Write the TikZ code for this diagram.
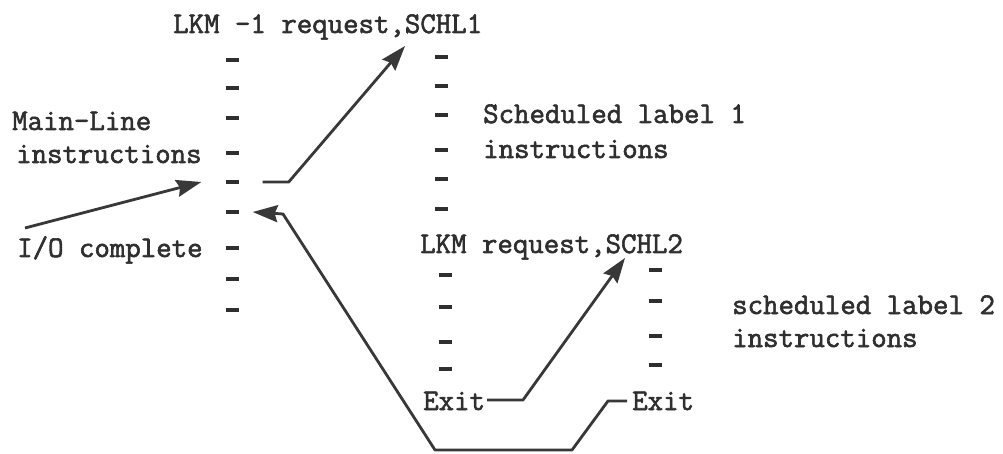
\documentclass[tikz,border=0pt]{standalone}
\usepackage{fontspec}
\usetikzlibrary{arrows.meta,calc}
\newfontfamily\typewriter{Latin Modern Mono}[FakeBold=2]
\definecolor{ink}{HTML}{2F2F2F}
\definecolor{pen}{HTML}{383838}
\tikzset{
  typed/.style={font=\typewriter\fontsize{30}{36}\selectfont, text=ink, inner sep=0pt, anchor=base west},
  tick/.style={rectangle, fill=ink, draw=none, inner sep=0pt, minimum width=13pt, minimum height=3.2pt},
  flow/.style={draw=pen, line width=2.8pt, line join=round},
  tip/.style={-{Stealth[length=25pt,width=17pt,inset=3pt]}}
}
\begin{document}
\begin{tikzpicture}[x=1pt,y=-1pt]
\useasboundingbox[fill=white] (0,0) rectangle (1003,454);

% main line program
\node[typed] (title1) at (173,33) {LKM -1 request,SCHL1};
\node[typed] (mainline) at (12,130) {Main-Line};
\node[typed] (maininstr) at (16,163) {instructions};
\node[typed] (iodone) at (17,257) {I/O complete};
\foreach \n/\y in {1/60,2/88,3/118,4/153,5/182,6/212,7/248,8/279,9/310}
  \node[tick] (a\n) at (232,\y) {};

% scheduled label 1 routine
\node[typed] (sch1a) at (483,123) {Scheduled label 1};
\node[typed] (sch1b) at (483,158) {instructions};
\foreach \n/\y in {1/57,2/86,3/115,4/150,5/179,6/209}
  \node[tick] (b\n) at (441,\y) {};
\node[typed] (title2) at (420,253) {LKM request,SCHL2};
\foreach \n/\y in {7/275,8/307,9/342,10/369}
  \node[tick] (b\n) at (445,\y) {};
\node[typed] (exit1) at (423,410) {Exit};

% scheduled label 2 routine
\foreach \n/\y in {1/270,2/301,3/336,4/365}
  \node[tick] (c\n) at (655,\y) {};
\node[typed] (sch2a) at (732,314) {scheduled label 2};
\node[typed] (sch2b) at (732,347) {instructions};
\node[typed] (exit2) at (632,410) {Exit};

% connector end points
\coordinate (ioTail) at (25,228);
\coordinate (intoMain) at ($(a5.west)+(-24,0)$);
\coordinate (leaveMain) at ($(a5.east)+(24,0)$);
\coordinate (leaveBend) at ($(a5.east)+(50,0)$);
\coordinate (sch1Tip) at (405,46);
\coordinate (exit1Start) at (487,400);
\coordinate (exit1Bend) at (523,400);
\coordinate (sch2Tip) at (625,258);
\coordinate (exit2Start) at (627,401);
\coordinate (exit2Bend) at (608,401);
\coordinate (lowRight) at (572,450);
\coordinate (lowLeft) at (435,450);
\coordinate (backBend) at (283,214);
\coordinate (backTip) at ($(a6.east)+(14,0)$);

% connectors
\draw[flow,tip] (ioTail) -- (intoMain);
\draw[flow,tip] (leaveMain) -- (leaveBend) -- (sch1Tip);
\draw[flow,tip] (exit1Start) -- (exit1Bend) -- (sch2Tip);
\draw[flow,tip] (exit2Start) -- (exit2Bend) -- (lowRight) -- (lowLeft) -- (backBend) -- (backTip);
\end{tikzpicture}
\end{document}
